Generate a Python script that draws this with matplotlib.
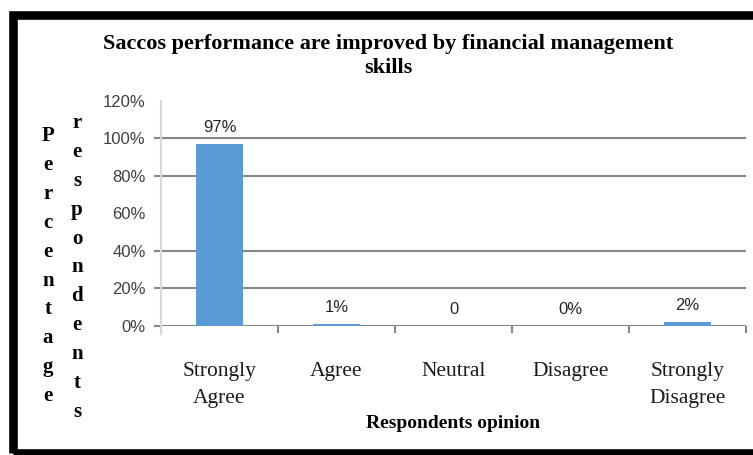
import matplotlib.pyplot as plt
from matplotlib.patches import Rectangle

categories = ['Strongly\nAgree', 'Agree', 'Neutral', 'Disagree', 'Strongly\nDisagree']
values = [97, 1, 0, 0, 2]
value_labels = ['97%', '1%', '0', '0%', '2%']
y_ticks = [0, 20, 40, 60, 80, 100, 120]
grid_levels = [0, 20, 40, 80, 100]

title = 'Saccos performance are improved by financial management\nskills'
xlabel = 'Respondents opinion'
ylabel_left = 'Percentage'
ylabel_right = 'respondents'

W, H = 753, 455
fig = plt.figure(figsize=(W / 100, H / 100), dpi=100)

# plot area in pixels: x 161..746, y 100.7 (120%)..325.7 (0%)
ax = fig.add_axes([161 / W, 1 - 325.7 / H, (746 - 161) / W, 225 / H])

ax.bar(range(len(values)), values, width=0.4, color='#5b9bd5', zorder=3)
ax.set_xlim(-0.5, len(values) - 0.5)
ax.set_ylim(0, 120)

for lvl in grid_levels:
    ax.axhline(lvl, color='#868686', lw=1.5, zorder=2)
    # short outside tick on the value axis
    ax.plot([-0.55, -0.5], [lvl, lvl], color='#868686', lw=1.5, clip_on=False, zorder=2)

for spine in ['top', 'right', 'bottom']:
    ax.spines[spine].set_visible(False)
ax.spines['left'].set_color('#d9d9d9')
ax.spines['left'].set_linewidth(1.5)
ax.spines['left'].set_bounds(-4.5, 120)

ax.set_yticks(y_ticks)
ax.set_yticklabels([f'{v}%' for v in y_ticks], fontsize=12, color='#404040',
                   family='Liberation Sans')
ax.tick_params(axis='y', length=0, pad=11)

ax.set_xticks(range(len(categories)))
ax.set_xticklabels(categories, fontsize=15.5, family='Liberation Serif',
                   color='#1a1a1a', linespacing=1.6)
ax.tick_params(axis='x', which='major', length=0, pad=26)
ax.set_xticks([i - 0.5 for i in range(len(categories) + 1)], minor=True)
ax.tick_params(axis='x', which='minor', length=5, width=1.5, color='#868686', direction='out')

for i, (v, lab) in enumerate(zip(values, value_labels)):
    ax.annotate(lab, (i, v), xytext=(0, 6.5), textcoords='offset points',
                ha='center', va='bottom', fontsize=12, color='#262626',
                family='Liberation Sans')

fig.text(388 / W, 1 - 56 / H, title, ha='center', va='center', fontsize=16,
         fontweight='bold', family='Liberation Serif', linespacing=1.3)
fig.text(453 / W, 1 - 424 / H, xlabel, ha='center', va='center', fontsize=14,
         fontweight='bold', family='Liberation Serif')

# vertical axis title written one letter per line, in two columns
for col_x, word, y0 in [(48, ylabel_left, 136), (77, ylabel_right, 123)]:
    for k, ch in enumerate(word):
        fig.text(col_x / W, 1 - (y0 + 28.9 * k) / H, ch, ha='center', va='center',
                 fontsize=15, fontweight='bold', family='Liberation Serif')

# heavy black frame around the chart
fig.add_artist(Rectangle((13 / W, 1 - 453 / H), (770 - 13) / W, (453 - 14.5) / H,
                         transform=fig.transFigure, fill=False, edgecolor='black',
                         linewidth=6.2, clip_on=False))

fig.savefig('out.png', dpi=100)
